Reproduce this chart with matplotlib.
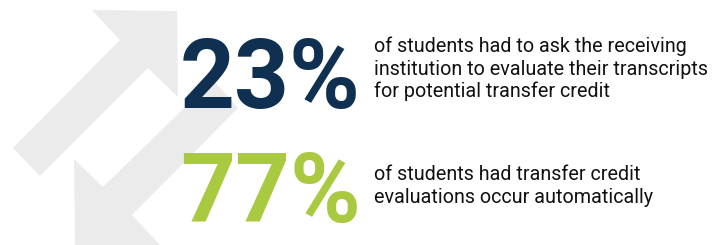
import matplotlib
matplotlib.use("Agg")
import matplotlib.pyplot as plt
from matplotlib.patches import Polygon

# ---- data ----
percentages = [23, 77]
stat_colors = ["#0f3050", "#a9c941"]
descriptions = [
    ["of students had to ask the receiving",
     "institution to evaluate their transcripts",
     "for potential transfer credit"],
    ["of students had transfer credit",
     "evaluations occur automatically"],
]

W, H = 726, 245
fig = plt.figure(figsize=(W / 100, H / 100), dpi=100)
ax = fig.add_axes([0, 0, 1, 1])
ax.set_xlim(0, W)
ax.set_ylim(H, 0)
ax.axis("off")

gray = "#ebebeb"
# decorative arrows (pixel coordinates)
up_arrow = [(13, 148), (120, 40), (92, 10), (177, 11), (178, 97), (148, 68), (40, 176)]
down_arrow = [(213, 80), (238, 108), (132, 215), (160, 245), (75, 245), (74, 159), (103, 187)]
ax.add_patch(Polygon(up_arrow, closed=True, color=gray, lw=0, zorder=1))
ax.add_patch(Polygon(down_arrow, closed=True, color=gray, lw=0, zorder=1))

num_baselines = [108, 222]
text_first_baselines = [52, 180]
line_step = 22.5

for pct, col, desc, nb, tb in zip(percentages, stat_colors, descriptions,
                                  num_baselines, text_first_baselines):
    ax.text(180, nb, f"{pct}%", color=col, fontsize=69, fontweight="bold",
            family="Roboto", ha="left", va="baseline", zorder=3)
    for i, line in enumerate(desc):
        ax.text(374, tb + i * line_step, line, color="#111111", fontsize=14.2,
                family="Roboto", ha="left", va="baseline", zorder=3)

fig.savefig("out.png", dpi=100, facecolor="white")
